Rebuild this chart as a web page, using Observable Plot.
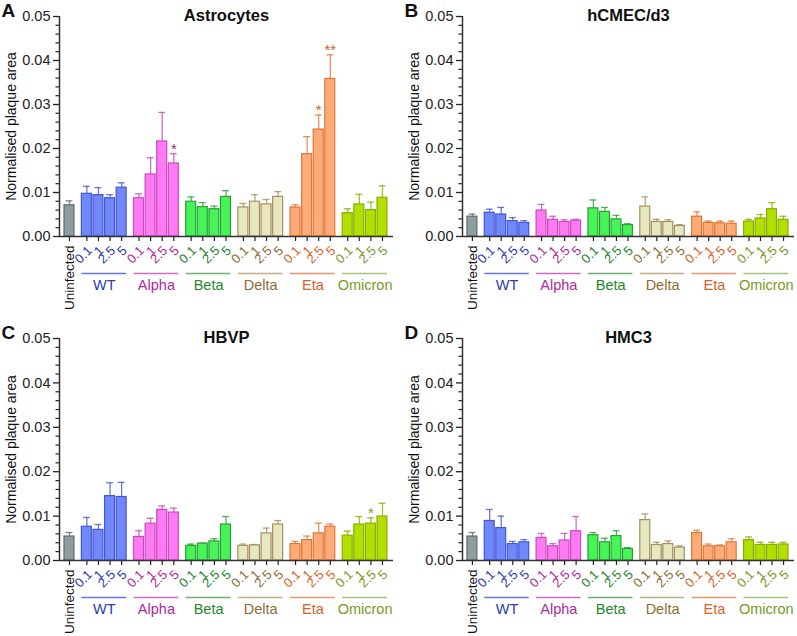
<!DOCTYPE html>
<html><head><meta charset="utf-8">
<script src="https://cdn.jsdelivr.net/npm/d3@7"></script>
<script src="https://cdn.jsdelivr.net/npm/@observablehq/plot@0.6"></script>
<style>
body{margin:0;background:#fff;}
#root{position:relative;width:797px;height:636px;font-family:"Liberation Sans",Arial,sans-serif;}
.panel{position:absolute;}
</style></head><body><div id="root"></div>
<script>
// ---- data ----
const groups = ["WT", "Alpha", "Beta", "Delta", "Eta", "Omicron"];
const doses = ["0.1", "1", "2.5", "5"];
const uninfectedLabel = "Uninfected";
const panelLetters = ["A", "B", "C", "D"];
const panelTitles = ["Astrocytes", "hCMEC/d3", "HBVP", "HMC3"];
const yTicks = [0, 0.01, 0.02, 0.03, 0.04, 0.05];
const yLabel = "Normalised plaque area";

// order: Uninfected, then WT(0.1,1,2.5,5), Alpha(...), Beta, Delta, Eta, Omicron
const astrocytesMean = [0.0071,
  0.0097, 0.0094, 0.0087, 0.0111,
  0.0087, 0.0141, 0.0216, 0.0166,
  0.0079, 0.0067, 0.0062, 0.0090,
  0.0066, 0.0079, 0.0073, 0.0090,
  0.0066, 0.0187, 0.0243, 0.0358,
  0.0053, 0.0073, 0.0060, 0.0088];
const astrocytesSem = [0.0010,
  0.0017, 0.0017, 0.0008, 0.0011,
  0.0010, 0.0038, 0.0066, 0.0022,
  0.0011, 0.0010, 0.0007, 0.0014,
  0.0009, 0.0016, 0.0011, 0.0012,
  0.0006, 0.0040, 0.0033, 0.0055,
  0.0010, 0.0023, 0.0018, 0.0027];

const hcmecMean = [0.0045,
  0.0054, 0.0050, 0.0035, 0.0031,
  0.0059, 0.0038, 0.0033, 0.0036,
  0.0064, 0.0056, 0.0039, 0.0026,
  0.0068, 0.0033, 0.0033, 0.0024,
  0.0045, 0.0031, 0.0030, 0.0029,
  0.0034, 0.0041, 0.0062, 0.0038];
const hcmecSem = [0.0006,
  0.0008, 0.0016, 0.0008, 0.0005,
  0.0014, 0.0008, 0.0005, 0.0003,
  0.0019, 0.0010, 0.0009, 0.0003,
  0.0022, 0.0006, 0.0005, 0.0003,
  0.0011, 0.0004, 0.0005, 0.0006,
  0.0005, 0.0009, 0.0015, 0.0008];

const hbvpMean = [0.0054,
  0.0076, 0.0069, 0.0145, 0.0143,
  0.0053, 0.0083, 0.0114, 0.0108,
  0.0033, 0.0038, 0.0043, 0.0081,
  0.0033, 0.0034, 0.0061, 0.0081,
  0.0037, 0.0046, 0.0061, 0.0076,
  0.0056, 0.0081, 0.0083, 0.0099];
const hbvpSem = [0.0009,
  0.0021, 0.0012, 0.0030, 0.0033,
  0.0014, 0.0012, 0.0009, 0.0010,
  0.0004, 0.0001, 0.0006, 0.0018,
  0.0004, 0.0002, 0.0012, 0.0009,
  0.0006, 0.0009, 0.0023, 0.0006,
  0.0010, 0.0018, 0.0013, 0.0030];

const hmc3Mean = [0.0054,
  0.0089, 0.0073, 0.0037, 0.0041,
  0.0051, 0.0032, 0.0045, 0.0066,
  0.0057, 0.0041, 0.0055, 0.0026,
  0.0091, 0.0035, 0.0037, 0.0029,
  0.0062, 0.0032, 0.0032, 0.0041,
  0.0046, 0.0035, 0.0035, 0.0036];
const hmc3Sem = [0.0009,
  0.0026, 0.0027, 0.0006, 0.0006,
  0.0010, 0.0006, 0.0016, 0.0033,
  0.0006, 0.0009, 0.0012, 0.0003,
  0.0014, 0.0006, 0.0007, 0.0004,
  0.0006, 0.0005, 0.0003, 0.0008,
  0.0007, 0.0006, 0.0006, 0.0005];

const significance = [
  {panel: 0, group: "Alpha", dose: "5", mark: "*"},
  {panel: 0, group: "Eta", dose: "2.5", mark: "*"},
  {panel: 0, group: "Eta", dose: "5", mark: "**"},
  {panel: 2, group: "Omicron", dose: "2.5", mark: "*"}
];

// ---- styles ----
const fillColors = {Uninfected: "#8e9d9f", WT: "#7088fa", Alpha: "#ff7bf4", Beta: "#46f457", Delta: "#e7e7c0", Eta: "#ffab78", Omicron: "#b2df00"};
const strokeColors = {Uninfected: "#5c6c6e", WT: "#4456d6", Alpha: "#cc48bd", Beta: "#2a9f35", Delta: "#a68e5e", Eta: "#de7535", Omicron: "#8aae00"};
const textColors = {Uninfected: "#111", WT: "#2b3bb2", Alpha: "#ad2a9e", Beta: "#24862b", Delta: "#8b6b33", Eta: "#d8622a", Omicron: "#789a28"};
const lineColors = {WT: "#6877e0", Alpha: "#d468c6", Beta: "#6fae6f", Delta: "#c3ad88", Eta: "#e6956a", Omicron: "#a8c47a"};
const starColors = {Alpha: "#a0238f", Eta: "#cf6225", Omicron: "#86a020"};

const means = [astrocytesMean, hcmecMean, hbvpMean, hmc3Mean];
const sems = [astrocytesSem, hcmecSem, hbvpSem, hmc3Sem];

const xPos = (gi, di) => 1.5 + 4.5 * gi + di;
const halfBar = 0.43, halfCap = 0.3;
const font = "'Liberation Sans', Arial, sans-serif";

function makePanel(pi) {
  const M = means[pi], S = sems[pi];
  const rows = [{group: "Uninfected", label: uninfectedLabel, x: 0, mean: M[0], sem: S[0]}];
  groups.forEach((g, gi) => doses.forEach((d, di) => {
    const k = 1 + gi * 4 + di;
    rows.push({group: g, label: d, x: xPos(gi, di), mean: M[k], sem: S[k]});
  }));
  const doseRows = rows.filter(r => r.group !== "Uninfected");
  const groupRows = groups.map((g, gi) => ({group: g, x1: xPos(gi, 0) - halfBar, x2: xPos(gi, 3) + halfBar, xc: (xPos(gi, 0) + xPos(gi, 3)) / 2}));
  const starRows = significance.filter(s => s.panel === pi).map(s => {
    const r = rows.find(r => r.group === s.group && r.label === s.dose);
    return {x: r.x, top: r.mean + r.sem, mark: s.mark, group: s.group};
  });
  const top = pi < 2;
  const xDomain = [-0.86, 27.95];
  const minor = d3.range(1, 25).filter(i => i % 5).map(i => i * 0.002);
  return Plot.plot({
    width: pi % 2 === 0 ? 400 : 394,
    height: 318,
    marginLeft: 59,
    marginRight: pi % 2 === 0 ? 7 : 3,
    marginTop: top ? 16 : 20,
    marginBottom: top ? 82 : 76,
    style: {fontFamily: font, background: "transparent", overflow: "visible", color: "#222"},
    x: {domain: xDomain},
    y: {domain: [0, 0.05]},
    marks: [
      Plot.axisY({ticks: yTicks, tickFormat: d3.format(".2f"), tickSize: 6, tickPadding: 3, fontSize: 14.5, label: null, strokeWidth: 1.3}),
      Plot.axisY({ticks: minor, tickSize: 3.5, tickFormat: () => "", label: null, strokeWidth: 1.2}),
      Plot.axisX({ticks: rows.map(r => r.x), tickSize: 5, tickFormat: () => "", label: null, strokeWidth: 1.2}),
      Plot.ruleX(rows, {x: "x", y1: "mean", y2: d => d.mean + d.sem, stroke: d => strokeColors[d.group], strokeWidth: 1.3, strokeOpacity: 0.8}),
      Plot.ruleY(rows, {y: d => d.mean + d.sem, x1: d => d.x - halfCap, x2: d => d.x + halfCap, stroke: d => strokeColors[d.group], strokeWidth: 1.3, strokeOpacity: 0.8}),
      Plot.rect(rows, {x1: d => d.x - halfBar, x2: d => d.x + halfBar, y1: 0, y2: "mean", fill: d => fillColors[d.group], stroke: d => strokeColors[d.group], strokeWidth: 1.2}),
      Plot.ruleY([0], {stroke: "#333", strokeWidth: 1.5}),
      Plot.ruleX([xDomain[0]], {stroke: "#333", strokeWidth: 1.5}),
      Plot.text(starRows, {x: "x", y: "top", text: "mark", dy: -5, fontSize: 15, fill: d => starColors[d.group]}),
      Plot.text(doseRows, {x: "x", y: () => 0, text: "label", rotate: -45, textAnchor: "end", dx: 3, dy: 12, fontSize: 13, fill: d => textColors[d.group]}),
      Plot.text(rows.filter(r => r.group === "Uninfected"), {x: "x", y: () => 0, text: "label", rotate: -90, textAnchor: "end", dx: 0, dy: 9, fontSize: 13.5, fill: "#111"}),
      Plot.ruleY(groupRows, {y: () => 0, x1: "x1", x2: "x2", dy: 37, stroke: d => lineColors[d.group], strokeWidth: 1.3}),
      Plot.text(groupRows, {x: "xc", y: () => 0, text: "group", dy: 49, fontSize: 14.5, fill: d => textColors[d.group]}),
      Plot.text([yLabel], {frameAnchor: "left", textAnchor: "middle", lineAnchor: "middle", rotate: -90, dx: -48, fontSize: 14, fill: "#111"}),
      Plot.text([panelTitles[pi]], {frameAnchor: "top", lineAnchor: "middle", dy: -1, fontSize: 16.5, fontWeight: "bold", fill: "#111"}),
      Plot.text([panelLetters[pi]], {frameAnchor: "top-left", textAnchor: "start", lineAnchor: "middle", dx: -58, dy: -6, fontSize: 19, fontWeight: "bold", fill: "#111"})
    ]
  });
}

const root = document.getElementById("root");
const positions = [[0, 0], [403, 0], [0, 318], [403, 318]];
positions.forEach(([left, topPx], pi) => {
  const div = document.createElement("div");
  div.className = "panel";
  div.style.left = left + "px";
  div.style.top = topPx + "px";
  div.appendChild(makePanel(pi));
  root.appendChild(div);
});
</script>
</body></html>
